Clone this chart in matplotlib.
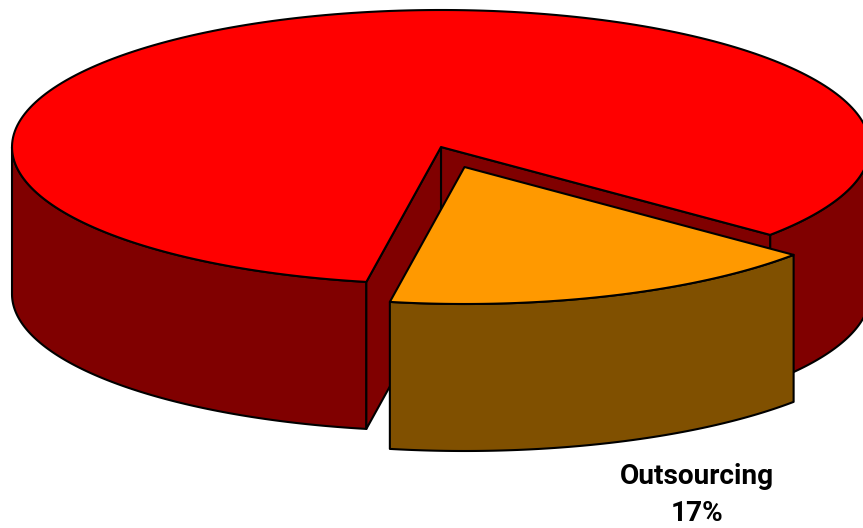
import numpy as np
import matplotlib
matplotlib.use("Agg")
import matplotlib.pyplot as plt
from matplotlib.patches import Polygon

labels = ["Other", "Outsourcing"]
shares = [83.3, 16.7]
label_lines = ["Outsourcing", "17%"]

TOP_RED, WALL_RED = "#FF0000", "#800000"
TOP_ORANGE, WALL_BROWN = "#FF9900", "#805000"

cx, cy, rx, ry, depth = 441, 147, 429, 137, 147
dx, dy = 23.5, 20
start = 39.9

fig = plt.figure(figsize=(8.63, 5.28), dpi=100)
ax = fig.add_axes([0, 0, 1, 1])
ax.set_xlim(0, 863)
ax.set_ylim(528, 0)
ax.axis("off")

def arc(a0, a1, ox=0, oy=0):
    t = np.radians(np.linspace(a0, a1, 240))
    return np.column_stack([cx + ox + rx * np.cos(t), cy + oy + ry * np.sin(t)])

def shape(pts, color):
    ax.add_patch(Polygon(pts, closed=True, facecolor=color, edgecolor="black",
                         linewidth=1.5, joinstyle="round"))

def wall(a0, a1, color, ox=0, oy=0):
    a = arc(a0, a1, ox, oy)
    shape(np.vstack([a, a[::-1] + [0, depth]]), color)

sweep = shares[1] / sum(shares) * 360
end = start + sweep

# main slice: walls first, then top
wall(end, 180, WALL_RED)
wall(0, start, WALL_RED)
p_start = arc(start, start)[0]
p_end = arc(end, end)[0]
apex = np.array([cx, cy], float)
for p in (p_start, p_end):
    shape(np.array([apex, p, p + [0, depth], apex + [0, depth]]), WALL_RED)
shape(np.vstack([[apex], arc(end, start + 360)]), TOP_RED)

# exploded slice
wall(start, end, WALL_BROWN, dx, dy)
shape(np.vstack([[apex + [dx, dy]], arc(start, end, dx, dy)]), TOP_ORANGE)

for line, y in zip(label_lines, (484, 521)):
    ax.text(697, y, line, ha="center", va="baseline", fontsize=20.2,
            fontweight="bold", family="Roboto", color="black")

fig.savefig("out.png", dpi=100)
